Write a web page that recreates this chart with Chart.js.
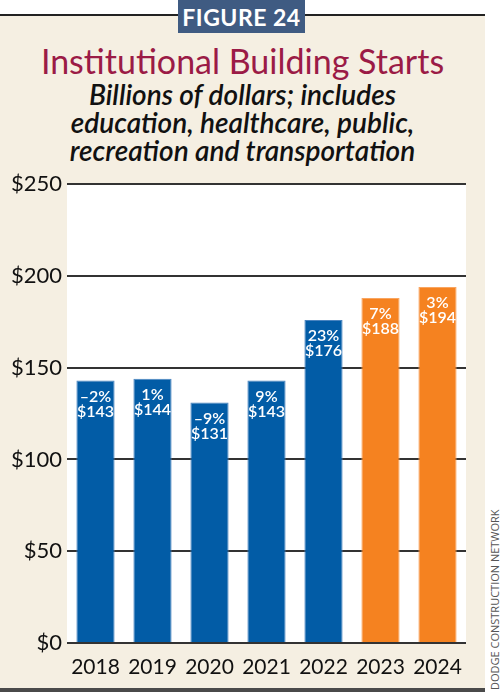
<!DOCTYPE html>
<html>
<head>
    <title>Institutional Building Starts</title>
    <script src="https://cdn.jsdelivr.net/npm/chart.js"></script>
    <style>
        body { margin: 0; width: 500px; height: 692px; background: #fff; position: relative; overflow: hidden; font-family: Lato, sans-serif; }
        #panel { position: absolute; left: 0; top: 15px; width: 485px; height: 673px; background: #f5efe2; border-bottom: 4px solid #4a4a4a; }
        #topline { position: absolute; left: 0; top: 14px; width: 485px; height: 2px; background: #222; }
        #figbox { position: absolute; left: 178px; top: 0; width: 127px; height: 33px; background: #3f5b82; color: #fff;
                  font: bold 23px Lato, sans-serif; text-align: center; line-height: 34px; letter-spacing: 0.5px; }
        #title { position: absolute; left: 0; top: 40px; width: 485px; text-align: center; color: #9b1b46;
                 font: 34px Lato, sans-serif; }
        #subtitle { position: absolute; left: 0; top: 80px; width: 485px; text-align: center; color: #111;
                    font: italic 600 28px/28px Lato, sans-serif; }
        #source { position: absolute; left: 495px; top: 690px; transform: rotate(-90deg); transform-origin: 0 0;
                  font: 11px "Open Sans", sans-serif; color: #555; white-space: nowrap; }
        #chartBox { position: absolute; left: 0; top: 166px; width: 485px; height: 522px; }
    </style>
</head>
<body>
    <div id="panel"></div>
    <div id="topline"></div>
    <div id="figbox">FIGURE 24</div>
    <div id="title">Institutional Building Starts</div>
    <div id="subtitle">Billions of dollars; includes<br>education, healthcare, public,<br>recreation and transportation</div>
    <div id="source"><span style="position:relative; top:-8px">DODGE CONSTRUCTION NETWORK</span></div>
    <div id="chartBox"><canvas id="startsChart"></canvas></div>

    <script>
        const years = ['2018', '2019', '2020', '2021', '2022', '2023', '2024'];
        const starts = [143, 144, 131, 143, 176, 188, 194];
        const changes = ['\u20132%', '1%', '\u20139%', '9%', '23%', '7%', '3%'];
        const isForecast = [false, false, false, false, false, true, true];

        const blue = '#025ca6';
        const orange = '#f58220';

        // white plot background
        const plotBackground = {
            id: 'plotBackground',
            beforeDraw(chart) {
                const a = chart.chartArea;
                const ctx = chart.ctx;
                ctx.save();
                ctx.fillStyle = '#fff';
                ctx.fillRect(a.left, a.top, a.right - a.left, a.bottom - a.top);
                ctx.restore();
            }
        };

        // change + value written at the top of each bar
        const barLabels = {
            id: 'barLabels',
            afterDatasetsDraw(chart) {
                const ctx = chart.ctx;
                const bars = chart.getDatasetMeta(0).data;
                ctx.save();
                ctx.fillStyle = '#fff';
                ctx.font = '600 16px Lato, sans-serif';
                ctx.textAlign = 'center';
                ctx.textBaseline = 'middle';
                bars.forEach((bar, i) => {
                    ctx.fillText(changes[i], bar.x, bar.y + 16);
                    ctx.fillText('$' + starts[i], bar.x, bar.y + 31);
                });
                ctx.restore();
            }
        };

        new Chart(document.getElementById('startsChart'), {
            type: 'bar',
            data: {
                labels: years,
                datasets: [{
                    data: starts,
                    backgroundColor: isForecast.map(f => f ? orange : blue),
                    borderColor: isForecast.map(f => f ? '#f9a560' : '#4a84c0'),
                    borderWidth: 1,
                    categoryPercentage: 1,
                    barPercentage: 0.67
                }]
            },
            options: {
                responsive: true,
                maintainAspectRatio: false,
                animation: false,
                layout: { padding: { top: 13, right: 19, bottom: 5, left: 0 } },
                plugins: {
                    legend: { display: false },
                    tooltip: { enabled: false }
                },
                scales: {
                    x: {
                        grid: { display: false },
                        border: { display: false },
                        ticks: { color: '#111', font: { family: 'Lato', size: 21 }, padding: 4 },
                        afterFit(scale) { scale.height = 40; }
                    },
                    y: {
                        min: 0,
                        max: 250,
                        ticks: {
                            stepSize: 50,
                            color: '#111',
                            font: { family: 'Lato', size: 22 },
                            padding: 5,
                            callback: v => '$' + v
                        },
                        grid: { color: '#333', lineWidth: 2, drawTicks: false },
                        border: { display: false },
                        afterFit(scale) { scale.width = 67; }
                    }
                }
            },
            plugins: [plotBackground, barLabels]
        });
    </script>
</body>
</html>
